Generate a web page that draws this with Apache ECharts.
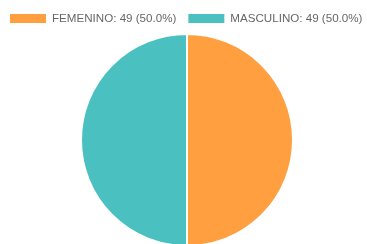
<!DOCTYPE html>
<html>
<head>
<meta charset="UTF-8">
<script src="https://cdn.jsdelivr.net/npm/echarts@6/dist/echarts.min.js"></script>
<style>
  html, body { margin: 0; padding: 0; background: #fff; }
  #chart { width: 367px; height: 244px; }
</style>
</head>
<body>
<div id="chart"></div>
<script>
  // datos
  const labels = ['FEMENINO', 'MASCULINO'];
  const counts = [49, 49];
  const colors = ['#ff9f40', '#4bc0c0'];

  const total = counts.reduce((a, b) => a + b, 0);
  const legendText = {};
  labels.forEach((l, i) => {
    legendText[l] = l + ': ' + counts[i] + ' (' + (counts[i] / total * 100).toFixed(1) + '%)';
  });

  const chart = echarts.init(document.getElementById('chart'));
  chart.setOption({
    animation: false,
    legend: {
      orient: 'horizontal',
      top: 12,
      left: 8,
      width: 400,
      padding: 0,
      itemWidth: 38,
      itemHeight: 11,
      itemGap: 10,
      icon: 'rect',
      textStyle: { fontFamily: 'Liberation Sans, Arial, sans-serif', fontSize: 11.6, color: '#666' },
      formatter: name => legendText[name]
    },
    series: [{
      type: 'pie',
      center: [187, 140],
      radius: [0, 106],
      startAngle: 90,
      label: { show: false },
      labelLine: { show: false },
      itemStyle: { borderColor: '#fff', borderWidth: 2 },
      data: labels.map((l, i) => ({ name: l, value: counts[i], itemStyle: { color: colors[i] } }))
    }]
  });
</script>
</body>
</html>
